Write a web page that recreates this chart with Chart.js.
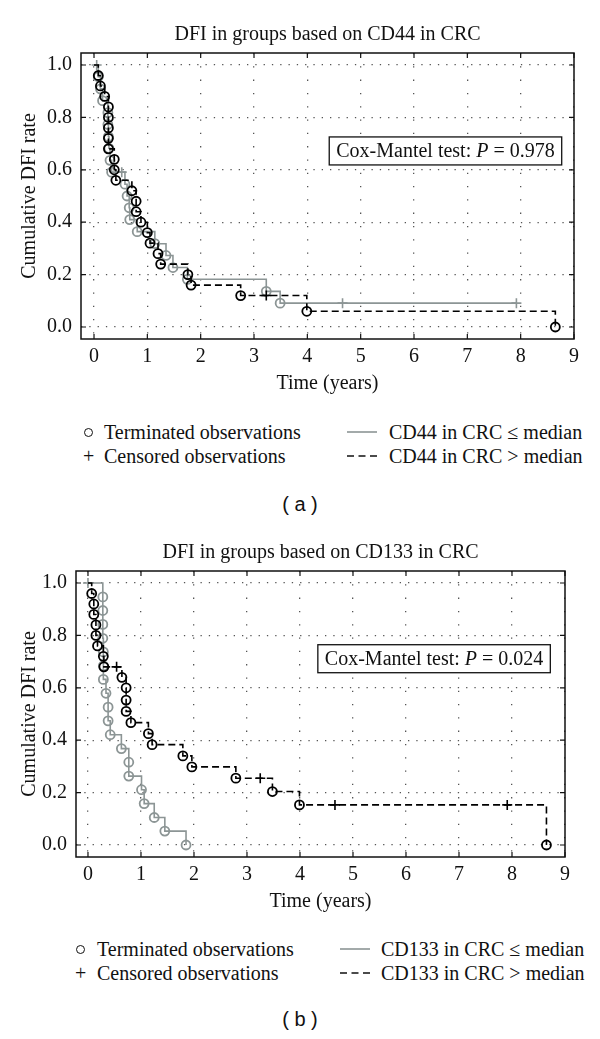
<!DOCTYPE html>
<html lang="en">
<head>
<meta charset="UTF-8">
<title>DFI in groups based on CD44 / CD133 in CRC</title>
<script src="https://cdn.jsdelivr.net/npm/chart.js"></script>
<style>
  body { margin: 0; background: #fff; font-family: 'Liberation Serif', 'Times New Roman', serif; color: #111; }
  #page { position: relative; width: 600px; height: 1039px; overflow: hidden; }
  canvas { position: absolute; left: 0; }
  .leg { position: absolute; font-size: 20px; line-height: 24px; white-space: nowrap; }
  .dot { position: absolute; width: 7px; height: 7px; border: 1.5px solid #111; border-radius: 50%; }
  .caption { position: absolute; left: 0; width: 600px; text-align: center; font-family: 'Liberation Sans', Arial, sans-serif; font-size: 20px; }
</style>
</head>
<body>
<div id="page">
  <canvas id="chartA" width="600" height="400" style="top:0"></canvas>
  <canvas id="chartB" width="600" height="400" style="top:518px"></canvas>

  <!-- legend (a) -->
  <div class="dot" style="left:84px; top:428px"></div>
  <div class="leg" style="left:83px; top:444px">+</div>
  <div class="leg" style="left:104px; top:420px">Terminated observations</div>
  <div class="leg" style="left:104px; top:444px">Censored observations</div>
  <svg style="position:absolute; left:347px; top:426px" width="30" height="12"><line x1="0" y1="6" x2="30" y2="6" stroke="#8c9595" stroke-width="1.6"/></svg>
  <svg style="position:absolute; left:347px; top:450px" width="30" height="12"><line x1="0" y1="6" x2="30" y2="6" stroke="#111" stroke-width="1.6" stroke-dasharray="7,4.5"/></svg>
  <div class="leg" style="left:389px; top:420px">CD44 in CRC ≤ median</div>
  <div class="leg" style="left:389px; top:444px">CD44 in CRC &gt; median</div>
  <div class="caption" style="top:493px">( a )</div>

  <!-- legend (b) -->
  <div class="dot" style="left:76px; top:945px"></div>
  <div class="leg" style="left:75px; top:961px">+</div>
  <div class="leg" style="left:97px; top:937px">Terminated observations</div>
  <div class="leg" style="left:97px; top:961px">Censored observations</div>
  <svg style="position:absolute; left:340px; top:943px" width="30" height="12"><line x1="0" y1="6" x2="30" y2="6" stroke="#8c9595" stroke-width="1.6"/></svg>
  <svg style="position:absolute; left:340px; top:967px" width="30" height="12"><line x1="0" y1="6" x2="30" y2="6" stroke="#111" stroke-width="1.6" stroke-dasharray="7,4.5"/></svg>
  <div class="leg" style="left:381px; top:937px">CD133 in CRC ≤ median</div>
  <div class="leg" style="left:381px; top:961px">CD133 in CRC &gt; median</div>
  <div class="caption" style="top:1008px">( b )</div>
</div>

<script>
  // axis ticks
  const xTicks = [0, 1, 2, 3, 4, 5, 6, 7, 8, 9];
  const yTicks = [0, 0.2, 0.4, 0.6, 0.8, 1.0];

  // (a) CD44 in CRC > median (dashed black)
  const cd44HighT = [0.08, 0.12, 0.2, 0.27, 0.27, 0.27, 0.27, 0.27, 0.38, 0.38, 0.41, 0.71, 0.79, 0.79, 0.88, 1.0, 1.05, 1.2, 1.25, 1.76, 1.82, 2.75, 3.99, 8.65];
  const cd44HighS = [0.96, 0.92, 0.88, 0.84, 0.80, 0.76, 0.72, 0.68, 0.64, 0.60, 0.56, 0.52, 0.48, 0.44, 0.40, 0.36, 0.32, 0.28, 0.24, 0.20, 0.16, 0.12, 0.06, 0.0];
  const cd44HighCensT = [3.23];
  const cd44HighCensS = [0.12];
  // (a) CD44 in CRC <= median (solid gray)
  const cd44LowT = [0.08, 0.12, 0.16, 0.26, 0.26, 0.27, 0.28, 0.30, 0.33, 0.58, 0.62, 0.66, 0.67, 0.81, 1.14, 1.35, 1.48, 1.75, 3.23, 3.49];
  const cd44LowS = [0.955, 0.909, 0.864, 0.818, 0.773, 0.727, 0.682, 0.636, 0.591, 0.545, 0.50, 0.455, 0.41, 0.364, 0.318, 0.273, 0.227, 0.182, 0.136, 0.091];
  const cd44LowCensT = [0.05, 0.52, 4.66, 7.92];
  const cd44LowCensS = [1.0, 0.591, 0.091, 0.091];

  // (b) CD133 in CRC > median (dashed black)
  const cd133HighT = [0.07, 0.11, 0.11, 0.15, 0.15, 0.18, 0.29, 0.30, 0.64, 0.72, 0.72, 0.72, 0.81, 1.14, 1.21, 1.79, 1.96, 2.79, 3.48, 3.99, 8.65];
  const cd133HighS = [0.96, 0.92, 0.88, 0.84, 0.80, 0.76, 0.72, 0.68, 0.64, 0.60, 0.553, 0.51, 0.467, 0.425, 0.383, 0.34, 0.298, 0.255, 0.204, 0.153, 0.0];
  const cd133HighCensT = [0.54, 3.25, 4.66, 7.91];
  const cd133HighCensS = [0.68, 0.255, 0.153, 0.153];
  // (b) CD133 in CRC <= median (solid gray)
  const cd133LowT = [0.28, 0.28, 0.28, 0.28, 0.29, 0.29, 0.29, 0.34, 0.38, 0.38, 0.42, 0.63, 0.77, 0.77, 1.01, 1.06, 1.25, 1.45, 1.85];
  const cd133LowS = [0.947, 0.895, 0.842, 0.789, 0.737, 0.684, 0.632, 0.579, 0.526, 0.474, 0.421, 0.368, 0.316, 0.263, 0.211, 0.158, 0.105, 0.053, 0.0];
  const cd133LowCensT = [0.0];
  const cd133LowCensS = [1.0];

  const GRAY = '#8c9595';
  const INK = '#111';
  const SERIF = "'Liberation Serif', 'Times New Roman', serif";
  const FS = 20;

  function pts(t, s) {
    return t.map((v, i) => ({ x: v, y: s[i] }));
  }

  // step curve: starts at 1.0, goes through events and censored points in time order
  function curve(g) {
    const all = pts(g.t, g.s).concat(pts(g.ct, g.cs)).sort((a, b) => a.x - b.x || b.y - a.y);
    return [{ x: 0, y: 1 }].concat(all);
  }

  function datasets(hi, lo) {
    const marks = (g, color) => [
      { data: pts(g.t, g.s), showLine: false, pointStyle: 'circle', pointRadius: 4.5,
        pointBorderWidth: 1.8, pointBorderColor: color, pointBackgroundColor: 'rgba(0,0,0,0)' },
      { data: pts(g.ct, g.cs), showLine: false, pointStyle: 'cross', pointRadius: 5,
        pointBorderWidth: 1.6, pointBorderColor: color }
    ];
    return [
      ...marks(hi, '#000'),
      { data: curve(hi), stepped: true, borderColor: '#000', borderWidth: 1.6, borderDash: [7, 4], pointRadius: 0, fill: false },
      ...marks(lo, GRAY),
      { data: curve(lo), stepped: true, borderColor: GRAY, borderWidth: 1.6, pointRadius: 0, fill: false }
    ];
  }

  // frame, inward tick marks and the test box
  const framePlugin = {
    id: 'frame',
    afterDatasetsDraw(chart, args, opts) {
      const { ctx, chartArea: a, scales: { x, y } } = chart;
      ctx.save();
      ctx.strokeStyle = INK;
      ctx.lineWidth = 1.5;
      ctx.strokeRect(a.left, a.top, a.right - a.left, a.bottom - a.top);
      ctx.lineWidth = 1.2;
      ctx.beginPath();
      xTicks.forEach(v => {
        const px = x.getPixelForValue(v);
        ctx.moveTo(px, a.bottom); ctx.lineTo(px, a.bottom - 5);
        ctx.moveTo(px, a.top); ctx.lineTo(px, a.top + 5);
      });
      yTicks.forEach(v => {
        const py = y.getPixelForValue(v);
        ctx.moveTo(a.left, py); ctx.lineTo(a.left + 5, py);
        ctx.moveTo(a.right, py); ctx.lineTo(a.right - 5, py);
      });
      ctx.stroke();

      // Cox-Mantel box
      const t1 = 'Cox-Mantel test: ', t2 = 'P', t3 = ' = ' + opts.p;
      const up = FS + 'px ' + SERIF, it = 'italic ' + FS + 'px ' + SERIF;
      ctx.font = up;
      const w1 = ctx.measureText(t1).width, w3 = ctx.measureText(t3).width;
      ctx.font = it;
      const w2 = ctx.measureText(t2).width;
      const w = w1 + w2 + w3 + 14, h = 28;
      const cx = x.getPixelForValue(opts.x), cy = y.getPixelForValue(opts.y);
      const bx = cx - w / 2, by = cy - h / 2;
      ctx.fillStyle = '#fff';
      ctx.fillRect(bx, by, w, h);
      ctx.lineWidth = 1.3;
      ctx.strokeRect(bx, by, w, h);
      ctx.fillStyle = INK;
      ctx.textBaseline = 'middle';
      ctx.textAlign = 'left';
      ctx.font = up;
      ctx.fillText(t1, bx + 7, cy + 1);
      ctx.font = it;
      ctx.fillText(t2, bx + 7 + w1, cy + 1);
      ctx.font = up;
      ctx.fillText(t3, bx + 7 + w1 + w2, cy + 1);
      ctx.restore();
    }
  };

  function makeChart(id, title, hi, lo, geo, cox) {
    const font = { family: SERIF, size: FS };
    return new Chart(document.getElementById(id), {
      type: 'line',
      data: { datasets: datasets(hi, lo) },
      plugins: [framePlugin],
      options: {
        responsive: false,
        animation: false,
        devicePixelRatio: 1,
        layout: { padding: { left: 0, right: 600 - geo.right, top: 0, bottom: 0 } },
        plugins: {
          legend: { display: false },
          tooltip: { enabled: false },
          title: {
            display: true, text: title, fullSize: false, color: INK,
            font: { family: SERIF, size: FS, weight: 'normal' },
            padding: { top: 23, bottom: 6 }
          },
          frame: cox
        },
        scales: {
          x: {
            type: 'linear', min: geo.xmin, max: 9,
            afterBuildTicks: s => { s.ticks = xTicks.map(v => ({ value: v })); },
            afterFit: s => { s.height = 400 - 339; },
            ticks: { font, color: INK, padding: 6, maxRotation: 0, autoSkip: false, callback: v => String(v) },
            grid: { color: '#555', lineWidth: 1.3, drawTicks: false },
            border: { display: false, dash: [1.3, 12] },
            title: { display: true, text: 'Time (years)', color: INK, font, padding: { top: 0, bottom: 4 } }
          },
          y: {
            min: -0.0458, max: 1.0458,
            afterBuildTicks: s => { s.ticks = yTicks.map(v => ({ value: v })); },
            afterFit: s => { s.width = geo.left; },
            ticks: { font, color: INK, padding: 9, callback: v => v.toFixed(1) },
            grid: { color: '#555', lineWidth: 1.3, drawTicks: false },
            border: { display: false, dash: [1.3, 7] },
            title: { display: true, text: 'Cumulative DFI rate', color: INK, font, padding: { top: 18, bottom: 0 } }
          }
        }
      }
    });
  }

  makeChart('chartA', 'DFI in groups based on CD44 in CRC',
    { t: cd44HighT, s: cd44HighS, ct: cd44HighCensT, cs: cd44HighCensS },
    { t: cd44LowT, s: cd44LowS, ct: cd44LowCensT, cs: cd44LowCensS },
    { left: 81, right: 574, xmin: -0.244 },
    { p: '0.978', x: 6.59, y: 0.672 });

  makeChart('chartB', 'DFI in groups based on CD133 in CRC',
    { t: cd133HighT, s: cd133HighS, ct: cd133HighCensT, cs: cd133HighCensS },
    { t: cd133LowT, s: cd133LowS, ct: cd133LowCensT, cs: cd133LowCensS },
    { left: 76, right: 565, xmin: -0.226 },
    { p: '0.024', x: 6.53, y: 0.711 });
</script>
</body>
</html>
